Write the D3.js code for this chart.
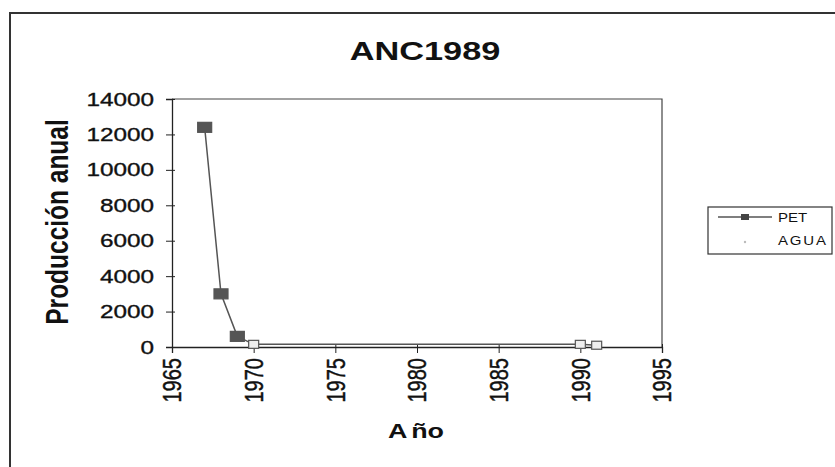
<!DOCTYPE html>
<html><head><meta charset="utf-8">
<script src="https://cdn.jsdelivr.net/npm/d3@7"></script>
<style>body{margin:0;background:#fff}svg{display:block}text{font-family:"Liberation Sans",Arial,sans-serif;fill:#111}</style>
</head><body>
<script>
const title = "ANC1989";
const petYears = [1967, 1968, 1969, 1970, 1990, 1991];
const petValues = [12400, 3000, 600, 150, 150, 100];
const aguaYears = [];
const aguaValues = [];
const xTicks = [1965, 1970, 1975, 1980, 1985, 1990, 1995];
const yTicks = [0, 2000, 4000, 6000, 8000, 10000, 12000, 14000];
const seriesNames = ["PET", "AGUA"];

const W = 835, H = 467;
const SX = 1.28; // horizontal stretch of the scanned original
const svg = d3.select("body").append("svg").attr("width", W).attr("height", H);

// outer chart border
svg.append("path").attr("d", "M10,470 L10,13 L840,13").attr("fill","none").attr("stroke","#333").attr("stroke-width",2);

const x = d3.scaleLinear().domain([1965, 1995]).range([172, 662]);
const y = d3.scaleLinear().domain([0, 14000]).range([347, 99]);

// plot area border (top/right)
svg.append("path").attr("d", `M${x(1965)},${y(14000)} L${x(1995)},${y(14000)} L${x(1995)},${y(0)}`)
  .attr("fill","none").attr("stroke","#444").attr("stroke-width",1.2);

// y axis
const yAx = svg.append("g").attr("transform", `translate(${x(1965)},0)`)
  .call(d3.axisLeft(y).tickValues(yTicks).tickFormat(d3.format("d")).tickSize(6).tickPadding(0));
yAx.select(".domain").attr("stroke","#222").attr("stroke-width",1.3);
yAx.selectAll(".tick line").attr("stroke","#222").attr("x2", 3).attr("x1",-6);
yAx.selectAll("text").attr("font-size", 19).attr("fill","#111").attr("x",null)
  .attr("stroke","#111").attr("stroke-width",0.35)
  .style("font-family","Liberation Sans, Arial, sans-serif")
  .attr("text-anchor","end")
  .attr("transform", `translate(-18,0) scale(${SX},1)`);

// x axis
const xAx = svg.append("g").attr("transform", `translate(0,${y(0)})`)
  .call(d3.axisBottom(x).tickValues(xTicks).tickFormat(d3.format("d")).tickSize(6));
xAx.select(".domain").attr("stroke","#222").attr("stroke-width",1.3);
xAx.selectAll(".tick line").attr("stroke","#222").attr("y1",-3).attr("y2",6);
xAx.selectAll("text").attr("font-size", 20).attr("fill","#111")
  .attr("stroke","#111").attr("stroke-width",0.35)
  .style("font-family","Liberation Sans, Arial, sans-serif")
  .attr("transform",`translate(0,11) scale(${SX},1) rotate(-90)`).attr("text-anchor","end").attr("x",0).attr("y",0).attr("dy","0.35em");

// PET line
const pet = petYears.map((yr,i)=>({yr, v: petValues[i]}));
svg.append("path").datum(pet)
  .attr("d", d3.line().x(d=>x(d.yr)).y(d=>y(d.v)))
  .attr("fill","none").attr("stroke","#555").attr("stroke-width",1.5);
svg.selectAll("rect.pet").data(pet).enter().append("rect").attr("class","pet")
  .attr("x", (d,i)=>x(d.yr)-(i<3?7:5)).attr("y", (d,i)=>y(d.v)-(i<3?5:4))
  .attr("width",(d,i)=>i<3?14:10).attr("height",(d,i)=>i<3?10:8)
  .attr("fill", (d,i)=> i<3 ? "#555" : "#eee").attr("stroke","#555").attr("stroke-width",1.2);

// AGUA (no visible data)
const agua = aguaYears.map((yr,i)=>({yr, v: aguaValues[i]}));
svg.selectAll("circle.agua").data(agua).enter().append("circle").attr("class","agua")
  .attr("cx", d=>x(d.yr)).attr("cy", d=>y(d.v)).attr("r",2).attr("fill","#bbb");

// title
svg.append("text").attr("transform", `translate(425,60) scale(1.32,1)`).attr("text-anchor","middle")
  .attr("font-size", 26).attr("font-weight","bold").text(title);

// y title
svg.append("text").attr("transform",`translate(68,222) scale(${SX},1) rotate(-90)`).attr("text-anchor","middle")
  .attr("font-size", 24.5).attr("font-weight","bold").text("Producción anual");

// x title
const xt = svg.append("text").attr("transform", `translate(416,438) scale(${SX},1)`).attr("text-anchor","middle")
  .attr("font-size", 21).attr("font-weight","bold");
xt.append("tspan").text("A");
xt.append("tspan").attr("dx", 3).text("ño");

// legend
const lg = svg.append("g");
lg.append("rect").attr("x",708).attr("y",207).attr("width",124).attr("height",47)
  .attr("fill","#fff").attr("stroke","#333").attr("stroke-width",1.2);
lg.append("line").attr("x1",718).attr("x2",772).attr("y1",217).attr("y2",217).attr("stroke","#555").attr("stroke-width",1.3);
lg.append("rect").attr("x",741).attr("y",214).attr("width",8).attr("height",6).attr("fill","#444");
lg.append("circle").attr("cx",745).attr("cy",242).attr("r",1.2).attr("fill","#bbb");
lg.selectAll("text.lg").data(seriesNames).enter().append("text").attr("class","lg")
  .attr("transform",(d,i)=>`translate(778,${218+i*23}) scale(1.2,1)`).attr("dy","0.35em").attr("font-size",12.5)
  .attr("letter-spacing", (d,i)=> i===1 ? 1.5 : 0).text(d=>d);
</script>
</body></html>
